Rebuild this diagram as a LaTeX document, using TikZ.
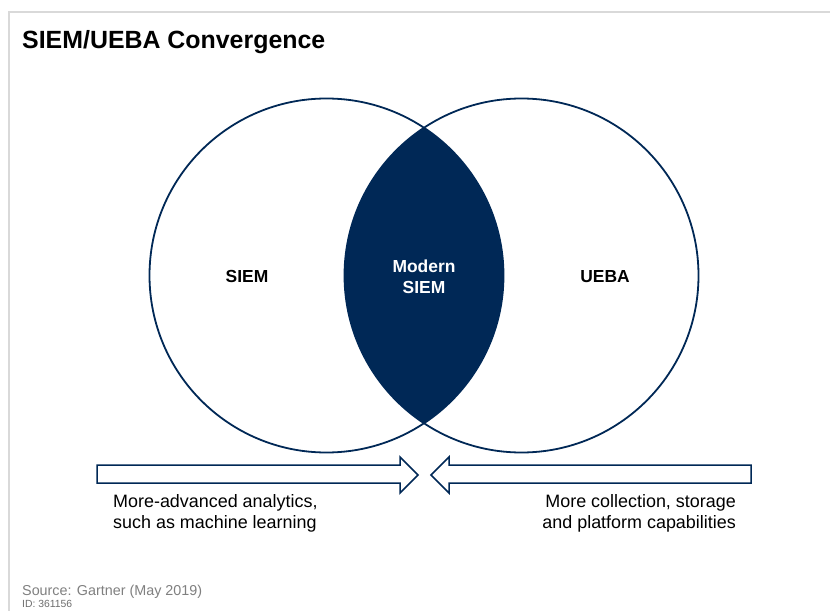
\documentclass[tikz,border=0pt]{standalone}
\usepackage{fontspec}
\setmainfont{Liberation Sans}
\begin{document}
\definecolor{navy}{RGB}{0,40,86}
\definecolor{frame}{RGB}{217,217,217}
\definecolor{srcgray}{RGB}{128,128,128}
\begin{tikzpicture}[x=1bp,y=-1bp,
  ring/.style={circle, draw=navy, line width=1.8bp, minimum size=354bp, inner sep=0pt},
  label/.style={font=\bfseries\fontsize{17.5}{21}\selectfont, align=center, inner sep=0pt},
  pusharrow/.style={draw=navy, fill=white, line width=1.5bp, line join=miter},
  caption/.style={font=\fontsize{18}{21}\selectfont, inner sep=0pt}]
  \useasboundingbox (0,0) rectangle (830,611);
  \fill[white] (0,0) rectangle (830,611);
  % panel frame
  \draw[frame, line width=1.5bp] (9,611) -- (9,12) -- (830,12);
  % title
  \node[anchor=base west, inner sep=0pt, font=\bfseries\fontsize{25}{29}\selectfont] (title) at (22,49) {SIEM/UEBA Convergence};
  % overlap of the two sets
  \begin{scope}
    \clip (326.5,275.5) circle [radius=177bp];
    \fill[navy] (521.5,275.5) circle [radius=177bp];
  \end{scope}
  % the two sets
  \node[ring] (siem) at (326.5,275.5) {};
  \node[ring] (ueba) at (521.5,275.5) {};
  \node[label, anchor=base] (siemlbl) at (247,282) {SIEM};
  \node[label, anchor=base] (uebalbl) at (605,282) {UEBA};
  % base of a two-line node sits on its last line
  \node[label, anchor=base, text=white] (modern) at (424,293) {Modern\\SIEM};
  % converging arrows
  \coordinate (la1) at (97,465);
  \coordinate (ltip) at (418,475);
  \draw[pusharrow] (la1) -- (400,465) -- (400,457) -- (ltip) -- (400,493) -- (400,483) -- (97,483) -- cycle;
  \coordinate (ra1) at (751,465);
  \coordinate (rtip) at (431,475);
  \draw[pusharrow] (ra1) -- (449,465) -- (449,457) -- (rtip) -- (449,493) -- (449,483) -- (751,483) -- cycle;
  % arrow captions
  \node[caption, anchor=base west, align=left] (lcap) at (113,528) {More-advanced analytics,\\such as machine learning};
  \node[caption, anchor=base east, align=right] (rcap) at (736,528) {More collection, storage\\and platform capabilities};
  % source line
  \node[anchor=base west, inner sep=0pt, text=srcgray, font=\fontsize{14.4}{16}\selectfont] (source) at (22,595) {Source: Gartner (May 2019)};
  \node[anchor=base west, inner sep=0pt, text=srcgray!85!black, font=\fontsize{10.4}{12}\selectfont] (docid) at (22,607) {ID: 361156};
\end{tikzpicture}
\end{document}
